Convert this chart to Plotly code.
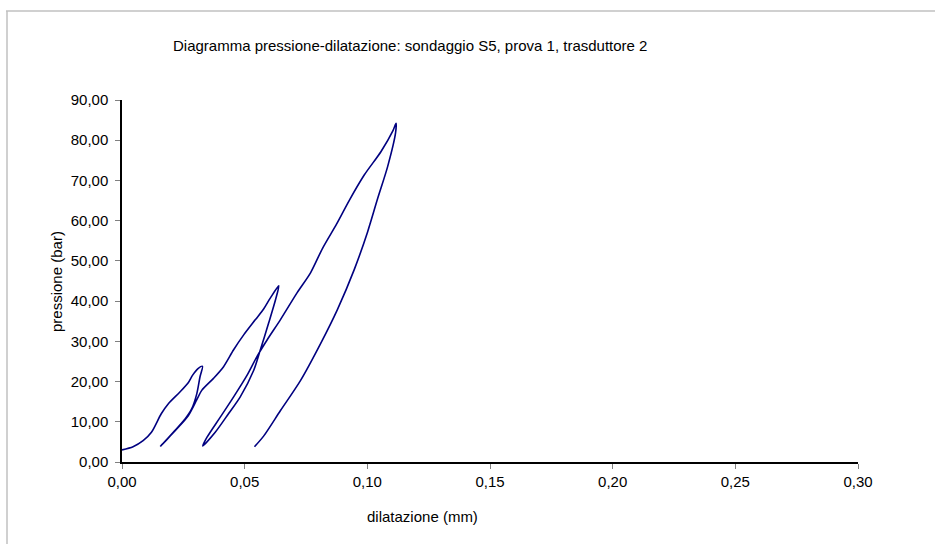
import plotly.graph_objects as go

# dilatazione (mm) and pressione (bar)
dilatazione = [0.0000, 0.0045, 0.0086, 0.0120, 0.0160, 0.0189, 0.0236, 0.0270, 0.0288, 0.0311, 0.0328,
               0.0318, 0.0305, 0.0284, 0.0257, 0.0209, 0.0158,
               0.0223, 0.0270, 0.0305, 0.0325, 0.0373, 0.0414, 0.0455, 0.0496, 0.0544, 0.0578, 0.0605, 0.0639,
               0.0626, 0.0598, 0.0564, 0.0537, 0.0482, 0.0434, 0.0380, 0.0329,
               0.0346, 0.0400, 0.0455, 0.0510, 0.0550, 0.0592, 0.0646, 0.0714, 0.0769, 0.0818, 0.0875, 0.0926,
               0.0988, 0.1056, 0.1104, 0.1117,
               0.1115, 0.1083, 0.1042, 0.1001, 0.0947, 0.0878, 0.0810, 0.0728, 0.0646, 0.0578, 0.0540]
pressione = [3.0, 3.8, 5.3, 7.4, 12.0, 14.5, 17.4, 19.7, 21.6, 23.3, 23.8,
             21.2, 17.0, 13.2, 10.7, 7.4, 4.0,
             8.2, 11.5, 15.5, 17.8, 20.8, 23.7, 27.9, 31.6, 35.4, 38.1, 40.8, 43.8,
             40.4, 34.6, 27.9, 22.8, 16.2, 12.0, 7.4, 4.0,
             6.1, 11.1, 16.2, 21.6, 26.2, 30.4, 35.4, 42.1, 47.1, 53.2, 59.2, 65.0,
             71.4, 77.2, 82.3, 84.2,
             81.8, 73.5, 65.5, 57.2, 47.9, 37.9, 29.5, 20.3, 12.8, 6.5, 3.8]

x_tickvals = [0.00, 0.05, 0.10, 0.15, 0.20, 0.25, 0.30]
x_ticktext = ["0,00", "0,05", "0,10", "0,15", "0,20", "0,25", "0,30"]
y_tickvals = [0, 10, 20, 30, 40, 50, 60, 70, 80, 90]
y_ticktext = ["0,00", "10,00", "20,00", "30,00", "40,00", "50,00", "60,00", "70,00", "80,00", "90,00"]

title_text = "Diagramma pressione-dilatazione: sondaggio S5, prova 1, trasduttore 2"
x_title = "dilatazione (mm)"
y_title = "pressione (bar)"

FONT = "Liberation Sans, Arial, sans-serif"

fig = go.Figure()
fig.add_trace(go.Scatter(
    x=dilatazione, y=pressione, mode="lines",
    line=dict(color="#000080", width=1.6, shape="spline", smoothing=0.8),
    hoverinfo="skip", showlegend=False,
))

W, H = 935, 544
L, R, T, B = 122, 858, 100, 462
pw, ph = R - L, B - T

def px(x):
    return (x - L) / pw

def py(y):
    return (B - y) / ph

axis_common = dict(
    showgrid=False, zeroline=False, showline=True, linecolor="black", linewidth=1.5,
    ticks="outside", ticklen=5, tickcolor="#808080", tickwidth=1,
    tickfont=dict(family=FONT, size=15, color="black"),
)

fig.update_layout(
    width=W, height=H,
    margin=dict(l=L, r=W - R, t=T, b=H - B, pad=0),
    paper_bgcolor="white", plot_bgcolor="white",
    font=dict(family=FONT, size=15, color="black"),
    xaxis=dict(range=[0, 0.30], tickvals=x_tickvals, ticktext=x_ticktext, **axis_common),
    yaxis=dict(range=[0, 90], tickvals=y_tickvals, ticktext=y_ticktext, ticklabelstandoff=4,
               **axis_common),
    annotations=[
        dict(text=title_text, xref="paper", yref="paper", x=px(410), y=py(45),
             showarrow=False, xanchor="center", yanchor="middle",
             font=dict(family=FONT, size=15, color="black")),
        dict(text=x_title, xref="paper", yref="paper", x=px(422), y=py(516),
             showarrow=False, xanchor="center", yanchor="middle",
             font=dict(family=FONT, size=15, color="black")),
        dict(text=y_title, xref="paper", yref="paper", x=px(56), y=py(282),
             showarrow=False, xanchor="center", yanchor="middle", textangle=-90,
             font=dict(family=FONT, size=15, color="black")),
    ],
    shapes=[
        dict(type="line", xref="paper", yref="paper", x0=px(6), x1=px(940), y0=py(11), y1=py(11),
             line=dict(color="#c0c0c0", width=1.5)),
        dict(type="line", xref="paper", yref="paper", x0=px(7), x1=px(7), y0=py(11), y1=py(550),
             line=dict(color="#c0c0c0", width=1.5)),
    ],
)

fig.write_html("out.html")
